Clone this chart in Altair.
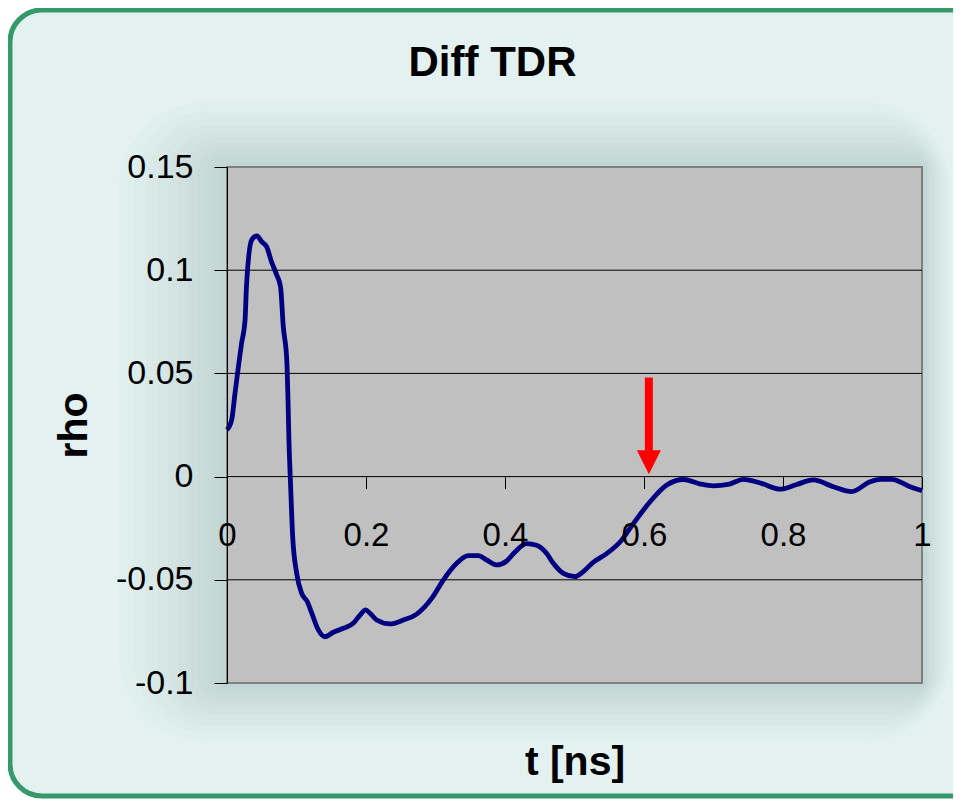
import altair as alt
import pandas as pd

# ---- data ----
t_ns = [0, 0.0067, 0.0115, 0.021, 0.026, 0.028, 0.0355, 0.043, 0.05, 0.057,
        0.064, 0.0715, 0.077, 0.081, 0.086, 0.088, 0.089, 0.0916, 0.0945, 0.1003,
        0.1075, 0.1156, 0.122, 0.1314, 0.141, 0.153, 0.1675, 0.1817, 0.1914, 0.1995,
        0.2058, 0.2154, 0.2345, 0.2537, 0.273, 0.2945, 0.3112, 0.3305, 0.3472, 0.3616,
        0.3737, 0.388, 0.4024, 0.4144, 0.4312, 0.4456, 0.46, 0.4695, 0.484, 0.5007,
        0.5127, 0.527, 0.5463, 0.5655, 0.5846, 0.6087, 0.6327, 0.657, 0.68, 0.6997,
        0.7213, 0.7429, 0.769, 0.7957, 0.8197, 0.8436, 0.8724, 0.8988, 0.9252, 0.9396,
        0.9564, 0.9827, 1.0]
rho = [0.0226, 0.0274, 0.0403, 0.0646, 0.0759, 0.092, 0.1146, 0.1166, 0.1138, 0.1114,
       0.1041, 0.0977, 0.092, 0.0726, 0.0565, 0.0339, 0.0193, -0.0049, -0.0291, -0.0469,
       -0.0566, -0.0606, -0.0662, -0.0743, -0.0776, -0.0754, -0.0735, -0.0711, -0.0671, -0.0646,
       -0.0662, -0.0695, -0.0714, -0.0695, -0.0666, -0.059, -0.0501, -0.042, -0.0383, -0.0383,
       -0.0404, -0.0428, -0.0409, -0.0365, -0.0325, -0.0333, -0.0373, -0.042, -0.0469, -0.0485,
       -0.046, -0.0415, -0.0373, -0.0317, -0.0228, -0.0122, -0.0041, -0.0014, -0.0035, -0.0045,
       -0.0038, -0.0013, -0.0033, -0.0061, -0.0038, -0.0016, -0.0049, -0.0073, -0.0025, -0.0013,
       -0.0013, -0.0049, -0.0068]

x_ticks = [0, 0.2, 0.4, 0.6, 0.8, 1]
y_ticks = [0.15, 0.1, 0.05, 0, -0.05, -0.1]
grid_rho = [0.1, 0.05, 0, -0.05]

arrow_t = [0.607]
arrow_top = [0.048]
arrow_base = [0.0125]
arrow_head_mid = [0.007]

# ---- layout constants ----
W, H = 695, 516
FONT = "Liberation Sans"
glow_pads = [5, 10, 15, 20, 26, 32, 39, 46, 54, 62, 72]

xscale = alt.Scale(domain=[0, 1], nice=False, zero=False)
yscale = alt.Scale(domain=[-0.1, 0.15], nice=False, zero=False)

one = pd.DataFrame({"k": [0]})

frame = alt.Chart(one).mark_rect(
    fill="#e3f2f0", stroke="#35996a", strokeWidth=5, cornerRadius=32
).encode(x=alt.value(-217), x2=alt.value(760), y=alt.value(-157), y2=alt.value(629))

glows = [
    alt.Chart(one).mark_rect(fill="#7eaaae", opacity=0.032, cornerRadius=p * 1.2).encode(
        x=alt.value(-p * 1.5), x2=alt.value(W + p * 0.4),
        y=alt.value(-p * 0.9), y2=alt.value(H + p * 0.8)
    )
    for p in glow_pads
]

plotbg = alt.Chart(one).mark_rect(
    fill="#c0c0c0", stroke="#808080", strokeWidth=2
).encode(x=alt.value(0), x2=alt.value(W), y=alt.value(0), y2=alt.value(H))

grid = alt.Chart(pd.DataFrame({"g": grid_rho})).mark_rule(
    color="black", strokeWidth=1
).encode(y=alt.Y("g:Q", scale=yscale))

df = pd.DataFrame({"t": t_ns, "rho": rho})
line = alt.Chart(df).mark_line(
    color="#000080", strokeWidth=4.8, interpolate="monotone"
).encode(
    x=alt.X("t:Q", scale=xscale, axis=alt.Axis(
        values=x_ticks, labelExpr="'' + datum.value", offset=-206.4,
        domain=False, grid=False, tickSize=12, tickColor="black", tickWidth=1,
        labelFont=FONT, labelFontSize=33, labelColor="black", labelPadding=31,
        labelFlush=False, title="t [ns]", titleFont=FONT, titleFontSize=41,
        titleFontWeight="bold", titleColor="black", titleY=298,
        titleBaseline="alphabetic", zindex=1)),
    y=alt.Y("rho:Q", scale=yscale, axis=alt.Axis(
        values=y_ticks, labelExpr="'' + datum.value",
        domain=True, domainColor="black", domainWidth=1, grid=False,
        tickSize=13, tickColor="black", tickWidth=1,
        labelFont=FONT, labelFontSize=34, labelColor="black", labelPadding=21,
        title="rho", titleFont=FONT, titleFontSize=41, titleFontWeight="bold",
        titleColor="black", titlePadding=20, zindex=1)),
)

adf = pd.DataFrame({"t": arrow_t, "top": arrow_top, "base": arrow_base, "mid": arrow_head_mid})
shaft = alt.Chart(adf).mark_rule(color="#ff0000", strokeWidth=8).encode(
    x=alt.X("t:Q", scale=xscale), y=alt.Y("top:Q", scale=yscale), y2="base:Q"
)
head = alt.Chart(adf).mark_point(
    shape="M-1,-1L1,-1L0,1Z", filled=True, color="#ff0000", size=576, opacity=1
).encode(x=alt.X("t:Q", scale=xscale), y=alt.Y("mid:Q", scale=yscale))

chart = alt.layer(frame, *glows, plotbg, grid, line, shaft, head).properties(
    width=W, height=H,
    padding={"left": 219, "top": 159, "right": 31, "bottom": 116},
    autosize=alt.AutoSizeParams(type="none"),
    background="white",
    title=alt.TitleParams("Diff TDR", font=FONT, fontSize=42, fontWeight="bold",
                          color="black", anchor="middle", dx=-82, offset=-110,
                          baseline="alphabetic"),
).configure_view(stroke="transparent", fill="transparent")

chart.save("out.html", embed_options={"renderer": "svg", "actions": False})
